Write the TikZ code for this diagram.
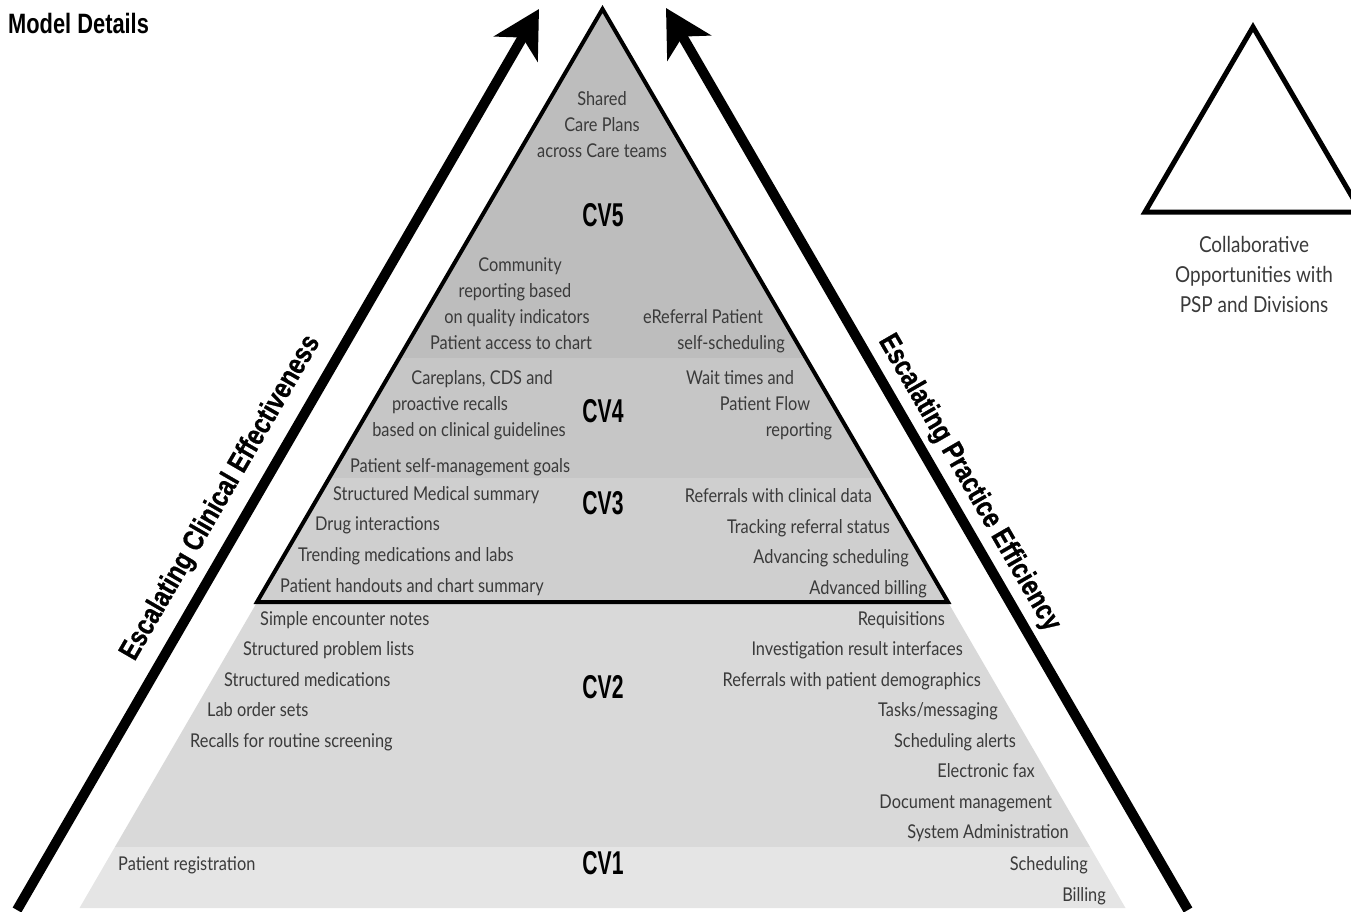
\documentclass[tikz,border=0pt]{standalone}
\usepackage{fontspec}
\setmainfont{Lato}
\newfontfamily\bodyf{Lato}[FakeStretch=0.86]
\newfontfamily\headf{Liberation Sans}[FakeStretch=0.78]
\newfontfamily\arrf{Liberation Sans}[FakeStretch=0.82,FakeBold=0.8]
\newfontfamily\cvf{Liberation Sans}[FakeStretch=0.64]
\usetikzlibrary{arrows.meta}
\definecolor{txtgray}{HTML}{3A3A3A}
\definecolor{cvfive}{HTML}{BDBDBD}
\definecolor{cvfour}{HTML}{C6C6C6}
\definecolor{cvthree}{HTML}{CFCFCF}
\definecolor{cvtwo}{HTML}{D9D9D9}
\definecolor{cvone}{HTML}{E5E5E5}
\tikzset{
  txt/.style={font=\bodyf\fontsize{19}{19}\selectfont, text=txtgray, inner sep=0pt},
  lt/.style={txt, anchor=base west},
  rt/.style={txt, anchor=base east},
  ct/.style={txt, anchor=base},
  bigct/.style={txt, anchor=base, font=\bodyf\fontsize{22}{22}\selectfont},
  cvlab/.style={font=\cvf\bfseries\fontsize{33}{33}\selectfont, anchor=base, inner sep=0pt},
  arrlab/.style={font=\arrf\bfseries\fontsize{29}{29}\selectfont, inner sep=0pt},
  bigarrow/.style={line width=10pt, -{Stealth[length=46pt,width=50pt,inset=13pt]}},
}
\begin{document}
\begin{tikzpicture}[x=1pt,y=-1pt]
\useasboundingbox (0,0) rectangle (1351,912);
% band fills
\begin{scope}
\clip (602.5,7) -- (79.5,908) -- (1125.5,908) -- cycle;
\fill[cvone] (0,847) rectangle (1351,912);
\fill[cvtwo] (0,602) rectangle (1351,847);
\fill[cvthree] (0,478) rectangle (1351,602);
\fill[cvfour] (0,358) rectangle (1351,478);
\fill[cvfive] (0,0) rectangle (1351,358);
\end{scope}
% inner triangle outline
\draw[line width=4pt, line join=miter] (602.5,9) -- (257,602) -- (948,602) -- cycle;
% arrows
\coordinate (la0) at (17,910);
\coordinate (la1) at (539,9);
\coordinate (ra0) at (1188,910);
\coordinate (ra1) at (666,8);
\draw[bigarrow] (la0) -- (la1);
\draw[bigarrow] (ra0) -- (ra1);
\node[arrlab, rotate=59.9] (lalab) at (221,498) {Escalating Clinical Effectiveness};
\node[arrlab, rotate=-60] (ralab) at (969,483) {Escalating Practice Efficiency};
% title
\node[font=\headf\bfseries\fontsize{28}{28}\selectfont, anchor=base west, inner sep=0pt] (title) at (8,34) {Model Details};
% small triangle
\draw[line width=5pt, line join=miter] (1253,27) -- (1145,212) -- (1361,212) -- cycle;
\node[bigct] (co1) at (1254,252) {Collaborative};
\node[bigct] (co2) at (1254,282) {Opportunities with};
\node[bigct] (co3) at (1254,312) {PSP and Divisions};
% CV5
\node[ct] (a1) at (602,106) {Shared};
\node[ct] (a2) at (602,132) {Care Plans};
\node[ct] (a3) at (602,158) {across Care teams};
\node[cvlab] (cv5) at (603,226) {CV5};
\node[ct] (b1) at (520,271) {Community};
\node[ct] (b2) at (515,297) {reporting based};
\node[ct] (b3) at (517,323) {on quality indicators};
\node[ct] (b4) at (511,349) {Patient access to chart};
\node[ct] (b5) at (703,323) {eReferral Patient};
\node[ct] (b6) at (731,349) {self-scheduling};
% CV4
\node[ct] (c1) at (482,384) {Careplans, CDS and};
\node[ct] (c2) at (450,410) {proactive recalls};
\node[ct] (c3) at (469,436) {based on clinical guidelines};
\node[cvlab] (cv4) at (603,422) {CV4};
\node[ct] (c4) at (740,384) {Wait times and};
\node[ct] (c5) at (765,410) {Patient Flow};
\node[ct] (c6) at (799,436) {reporting};
\node[ct] (c7) at (460,472) {Patient self-management goals};
% CV3
\node[lt] (d1) at (333,500) {Structured Medical summary};
\node[lt] (d2) at (315,530) {Drug interactions};
\node[lt] (d3) at (298,561) {Trending medications and labs};
\node[lt] (d4) at (280,592) {Patient handouts and chart summary};
\node[cvlab] (cv3) at (603,514) {CV3};
\node[rt] (d5) at (872,502) {Referrals with clinical data};
\node[rt] (d6) at (890,533) {Tracking referral status};
\node[rt] (d7) at (909,563) {Advancing scheduling};
\node[rt] (d8) at (927,594) {Advanced billing};
% CV2
\node[lt] (e1) at (260,625) {Simple encounter notes};
\node[lt] (e2) at (243,655) {Structured problem lists};
\node[lt] (e3) at (224,686) {Structured medications};
\node[lt] (e4) at (207,716) {Lab order sets};
\node[lt] (e5) at (190,747) {Recalls for routine screening};
\node[cvlab] (cv2) at (603,698) {CV2};
\node[rt] (f1) at (945,625) {Requisitions};
\node[rt] (f2) at (963,655) {Investigation result interfaces};
\node[rt] (f3) at (981,686) {Referrals with patient demographics};
\node[rt] (f4) at (998,716) {Tasks/messaging};
\node[rt] (f5) at (1016,747) {Scheduling alerts};
\node[rt] (f6) at (1035,777) {Electronic fax};
\node[rt] (f7) at (1052,808) {Document management};
\node[rt] (f8) at (1069,838) {System Administration};
% CV1
\node[lt] (g1) at (118,870) {Patient registration};
\node[cvlab] (cv1) at (603,874) {CV1};
\node[rt] (g2) at (1088,870) {Scheduling};
\node[rt] (g3) at (1106,901) {Billing};
\end{tikzpicture}
\end{document}
